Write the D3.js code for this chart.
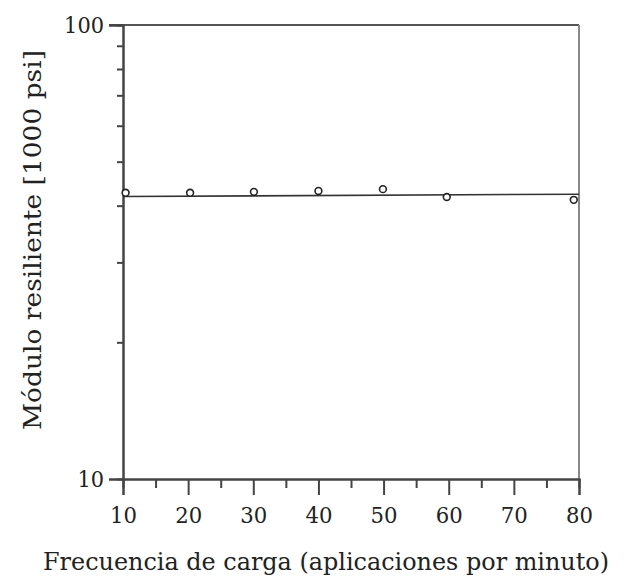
<!DOCTYPE html>
<html><head><meta charset="utf-8">
<script src="https://cdn.jsdelivr.net/npm/d3@7"></script>
<style>body{margin:0;background:#fff;}</style>
</head><body>
<svg id="c" width="624" height="583"></svg>
<script>
const frecuencia = [10.4, 20.3, 30.1, 40, 49.9, 59.7, 79.2];
const modulo = [42.7, 42.7, 42.9, 43.1, 43.5, 41.8, 41.2];
const ajusteX = [10, 80];
const ajusteY = [41.9, 42.4];
const xMajor = [10, 20, 30, 40, 50, 60, 70, 80];
const xMinor = [15, 25, 35, 45, 55, 65, 75];
const yMajor = [10, 100];
const yMinor = [20, 30, 40, 50, 60, 70, 80, 90];
const xTitle = "Frecuencia de carga (aplicaciones por minuto)";
const yTitle = "Módulo resiliente [1000 psi]";

const FONT = "DejaVu Serif";
const svg = d3.select("#c");
const L = 123, R = 579, T = 25, B = 479;
const x = d3.scaleLinear().domain([10, 80]).range([L, R]);
const y = d3.scaleLog().domain([10, 100]).range([B, T]);
const axCol = "#444";

svg.append("line").attr("x1", 109).attr("x2", R).attr("y1", T).attr("y2", T).attr("stroke", "#555").attr("stroke-width", 2);
svg.append("line").attr("x1", R).attr("x2", R).attr("y1", T).attr("y2", B).attr("stroke", "#888").attr("stroke-width", 2);

const gy = svg.append("g").attr("transform", `translate(${L},0)`);
gy.call(d3.axisLeft(y).tickValues(yMinor).tickSize(6).tickFormat(""));
gy.append("g").call(d3.axisLeft(y).tickValues(yMajor).tickSize(14).tickPadding(5).tickFormat(d3.format("d")));
gy.selectAll("path.domain").attr("stroke", axCol).attr("stroke-width", 2);
gy.selectAll(".tick line").attr("stroke", axCol).attr("stroke-width", 2);
gy.selectAll("text").attr("font-size", 23).attr("fill", "#222").style("font-family", FONT)
  .attr("textLength", d => String(d).length * 13.3).attr("lengthAdjust", "spacingAndGlyphs");

const gx = svg.append("g").attr("transform", `translate(0,${B})`);
gx.call(d3.axisBottom(x).tickValues(xMinor).tickSize(9).tickFormat(""));
gx.append("g").call(d3.axisBottom(x).tickValues(xMajor).tickSize(16).tickPadding(12).tickFormat(d3.format("d")));
gx.selectAll("path.domain").attr("stroke", axCol).attr("stroke-width", 2);
gx.selectAll(".tick line").attr("stroke", axCol).attr("stroke-width", 2);
gx.selectAll("text").attr("font-size", 23).attr("fill", "#222").style("font-family", FONT)
  .attr("textLength", 27).attr("lengthAdjust", "spacingAndGlyphs");

svg.append("path").datum(ajusteX.map((d, i) => [d, ajusteY[i]]))
  .attr("d", d3.line().x(d => x(d[0])).y(d => y(d[1])))
  .attr("fill", "none").attr("stroke", "#333").attr("stroke-width", 1.6);

svg.selectAll("circle.pt").data(frecuencia).enter().append("circle")
  .attr("class", "pt")
  .attr("cx", d => x(d)).attr("cy", (d, i) => y(modulo[i]))
  .attr("r", 3.4).attr("fill", "#fff").attr("stroke", "#222").attr("stroke-width", 1.6);

svg.append("text").attr("x", 326).attr("y", 570).attr("text-anchor", "middle")
  .style("font-family", FONT).attr("fill", "#222").attr("font-size", 23.5)
  .attr("textLength", 566).attr("lengthAdjust", "spacingAndGlyphs").text(xTitle);
svg.append("text").attr("transform", "translate(41,240) rotate(-90)").attr("text-anchor", "middle")
  .style("font-family", FONT).attr("fill", "#222").attr("font-size", 25)
  .attr("textLength", 380).attr("lengthAdjust", "spacingAndGlyphs").text(yTitle);
</script>
</body></html>
